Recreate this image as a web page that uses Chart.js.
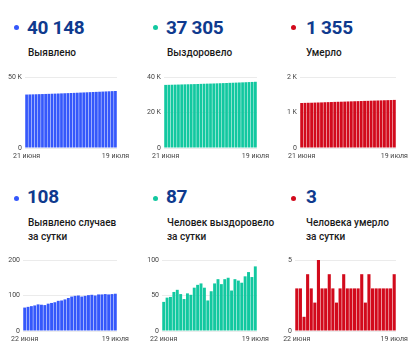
<!DOCTYPE html>
<html><head><meta charset="utf-8">
<script src="https://cdn.jsdelivr.net/npm/chart.js@4.4.0/dist/chart.umd.min.js"></script>
<style>
html,body{margin:0;padding:0;background:#fff;}
body{width:418px;height:355px;position:relative;overflow:hidden;font-family:Roboto,"Noto Sans",sans-serif;}
.dot{position:absolute;width:5px;height:5px;border-radius:50%;}
.num{position:absolute;font-weight:700;font-size:19px;line-height:19px;color:#0f3a8e;letter-spacing:-0.3px;}
.lbl{position:absolute;font-weight:500;font-size:10px;line-height:14px;color:#1a1a1a;}
canvas{position:absolute;}
</style></head><body>
<script>
// ---- data ----
const datesCum = ["21 июня","22 июня","23 июня","24 июня","25 июня","26 июня","27 июня","28 июня","29 июня","30 июня","1 июля","2 июля","3 июля","4 июля","5 июля","6 июля","7 июля","8 июля","9 июля","10 июля","11 июля","12 июля","13 июля","14 июля","15 июля","16 июля","17 июля","18 июля","19 июля"];
const datesDaily = ["22 июня","23 июня","24 июня","25 июня","26 июня","27 июня","28 июня","29 июня","30 июня","1 июля","2 июля","3 июля","4 июля","5 июля","6 июля","7 июля","8 июля","9 июля","10 июля","11 июля","12 июля","13 июля","14 июля","15 июля","16 июля","17 июля","18 июля","19 июля"];

const casesTotal = [37643,37709,37777,37847,37919,37994,38068,38141,38218,38297,38378,38463,38549,38638,38731,38828,38927,39027,39124,39223,39324,39426,39526,39629,39732,39836,39939,40043,40148];
const recoveredTotal = [35552,35593,35640,35688,35743,35801,35853,35898,35951,36002,36063,36128,36195,36256,36299,36355,36422,36495,36561,36634,36709,36766,36839,36910,36978,37055,37138,37214,37305];
const deathsTotal = [1268,1271,1274,1275,1279,1282,1284,1289,1292,1295,1299,1302,1304,1307,1311,1314,1317,1320,1323,1327,1329,1333,1336,1339,1342,1345,1348,1351,1355];

const casesDaily = [66,68,70,72,75,74,73,77,79,81,85,86,89,93,97,99,100,97,99,101,102,100,103,103,104,103,104,105];
const recoveredDaily = [41,47,48,55,58,52,45,53,51,61,65,67,61,43,56,67,73,66,73,75,57,73,71,68,77,83,76,91];
const deathsDaily = [3,3,1,4,3,2,5,3,3,4,3,2,3,4,3,3,3,3,4,2,4,3,3,3,3,3,3,4];

const headlines = ["40 148","37 305","1 355","108","87","3"];
const titles = [["Выявлено"],["Выздоровело"],["Умерло"],["Выявлено случаев","за сутки"],["Человек выздоровело","за сутки"],["Человека умерло","за сутки"]];

const yTicksCases = ["0","50 K"];
const yTicksRecovered = ["0","20 K","40 K"];
const yTicksDeaths = ["0","1 K","2 K"];
const yTicksCasesDaily = ["0","100","200"];
const yTicksRecoveredDaily = ["0","50","100"];
const yTicksDeathsDaily = ["0","5"];

// ---- styling ----
const BLUE="#3558fb", TEAL="#12c8a0", RED="#d20a1c";
const panels = [
  {col:0,color:BLUE,labels:datesCum,data:casesTotal,max:50000,step:50000,ticks:yTicksCases,plotL:25,plotR:117},
  {col:139,color:TEAL,labels:datesCum,data:recoveredTotal,max:40000,step:20000,ticks:yTicksRecovered,plotL:164,plotR:257},
  {col:277,color:RED,labels:datesCum,data:deathsTotal,max:2000,step:1000,ticks:yTicksDeaths,plotL:300,plotR:396},
  {col:0,color:BLUE,labels:datesDaily,data:casesDaily,max:200,step:100,ticks:yTicksCasesDaily,plotL:23,plotR:117},
  {col:139,color:TEAL,labels:datesDaily,data:recoveredDaily,max:100,step:50,ticks:yTicksRecoveredDaily,plotL:162,plotR:257},
  {col:277,color:RED,labels:datesDaily,data:deathsDaily,max:5,step:5,ticks:yTicksDeathsDaily,plotL:295,plotR:396}
];
// row layout: dot top, number top, label top, canvas top
const rows = [
  {dot:25,num:18,lbl:46,cv:68},
  {dot:196,num:187,lbl:216,cv:251}
];

panels.forEach((p,i)=>{
  const r = rows[i<3?0:1];
  const dot=document.createElement('div');dot.className='dot';
  dot.style.background=p.color;dot.style.left=(p.col+14)+'px';dot.style.top=r.dot+'px';
  document.body.appendChild(dot);
  const num=document.createElement('div');num.className='num';num.textContent=headlines[i];
  num.style.left=(p.col+(i%3===2?29:27))+'px';num.style.top=r.num+'px';
  document.body.appendChild(num);
  const lb=document.createElement('div');lb.className='lbl';
  lb.innerHTML=titles[i].join('<br>');
  lb.style.left=(p.col+(i%3===2?29:28))+'px';lb.style.top=r.lbl+'px';
  document.body.appendChild(lb);

  const cv=document.createElement('canvas');
  const cw = 138;
  cv.style.left=p.col+'px';cv.style.top=r.cv+'px';
  cv.width=cw;cv.height=97;cv.style.width=cw+'px';cv.style.height='97px';
  document.body.appendChild(cv);
  const axisW = p.plotL - p.col;
  const padR = cw - (p.plotR - p.col);
  new Chart(cv,{
    type:'bar',
    data:{labels:p.labels,datasets:[{data:p.data,backgroundColor:p.color,barPercentage:0.86,categoryPercentage:1.0,borderWidth:0}]},
    options:{
      responsive:false,animation:false,
      layout:{padding:{top:9,right:padR,left:0,bottom:0}},
      plugins:{legend:{display:false},tooltip:{enabled:false}},
      scales:{
        x:{grid:{display:false,drawTicks:false},border:{display:false},
           ticks:{autoSkip:false,maxRotation:0,minRotation:0,padding:4,color:'#444',font:{family:'Roboto',size:7},
             callback:(v,idx)=> (idx===0||idx===p.labels.length-1)? p.labels[idx] : ''},
           afterFit:s=>{s.height=17;}},
        y:{min:0,max:p.max,grid:{color:'#ebebeb',drawTicks:false,lineWidth:1},border:{display:false},
           ticks:{stepSize:p.step,padding:3,color:'#444',font:{family:'Roboto',size:7},
             callback:(v,idx)=>p.ticks[idx]},
           afterFit:s=>{s.width=axisW;}}
      }
    }
  });
});
</script>
</body></html>
